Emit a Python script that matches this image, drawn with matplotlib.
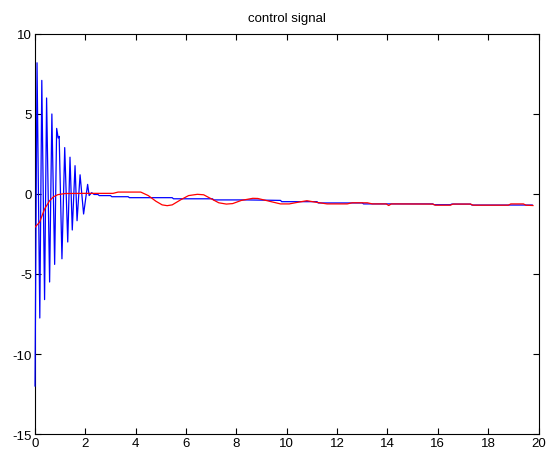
import matplotlib
matplotlib.use("Agg")
import matplotlib.pyplot as plt

# blue trace: breakpoints (time, value)
blue_t = [0.0, 0.08, 0.19, 0.27, 0.38, 0.46, 0.58, 0.67, 0.78, 0.86, 0.92, 0.96,
          1.07, 1.18, 1.30, 1.39, 1.48, 1.59, 1.67, 1.79, 1.93, 2.09, 2.15, 2.25,
          2.35, 2.50, 2.55, 3.00, 3.05, 3.70, 3.75, 5.45, 5.50, 7.05, 7.10, 8.40,
          9.75, 9.80, 11.20, 11.25, 13.00, 13.05, 15.80, 15.85, 16.50, 16.55,
          17.30, 17.35, 19.75]
blue_v = [-12.0, 8.2, -7.75, 7.1, -6.6, 6.0, -5.5, 5.0, -4.4, 4.1, 3.5, 3.6,
          -4.05, 2.9, -3.0, 2.3, -2.25, 1.77, -1.67, 1.2, -1.25, 0.6, -0.1, 0.08,
          -0.03, -0.03, -0.1, -0.1, -0.17, -0.17, -0.23, -0.23, -0.3, -0.3, -0.37, -0.37,
          -0.4, -0.48, -0.48, -0.56, -0.56, -0.62, -0.62, -0.67, -0.67, -0.63,
          -0.63, -0.69, -0.69]

# red trace
red_t = [0.0, 0.18, 0.38, 0.58, 0.74, 0.91, 1.2, 2.0, 3.1, 3.3, 4.2, 4.5, 4.8,
         5.05, 5.25, 5.45, 5.8, 6.1, 6.45, 6.7, 7.0, 7.3, 7.6, 7.85, 8.2, 8.65,
         8.85, 9.3, 9.75, 10.1, 10.5, 10.8, 11.1, 11.6, 12.4, 12.6, 13.2, 13.4,
         13.95, 14.05, 14.15, 15.8, 15.9, 16.5, 16.6, 17.3, 17.4, 18.8, 18.9,
         19.4, 19.5, 19.78]
red_v = [-2.07, -1.77, -0.94, -0.42, -0.17, -0.04, 0.03, 0.04, 0.04, 0.12, 0.12,
         -0.1, -0.45, -0.68, -0.73, -0.68, -0.35, -0.1, -0.02, -0.05, -0.3, -0.55,
         -0.63, -0.6, -0.4, -0.27, -0.28, -0.45, -0.62, -0.62, -0.5, -0.42, -0.5,
         -0.62, -0.62, -0.55, -0.55, -0.62, -0.62, -0.72, -0.62, -0.63, -0.7, -0.7,
         -0.63, -0.63, -0.7, -0.7, -0.62, -0.62, -0.7, -0.72]

x_ticks = list(range(0, 21, 2))
y_ticks = [-15, -10, -5, 0, 5, 10]

plt.rcParams['font.family'] = ['Liberation Sans', 'DejaVu Sans']
plt.rcParams['axes.unicode_minus'] = False

fig = plt.figure(figsize=(5.47, 4.52), dpi=100)
ax = fig.add_axes([0.064, 0.0376, 0.9205, 0.885])

ax.plot(blue_t, blue_v, color=(0, 0, 1), linewidth=0.9, zorder=3, clip_on=False)
ax.plot(red_t, red_v, color=(1, 0, 0), linewidth=0.9, zorder=3)

ax.set_xlim(0, 20)
ax.set_ylim(-15, 10)
ax.set_xticks(x_ticks)
ax.set_yticks(y_ticks)
ax.tick_params(direction='in', top=True, right=True, length=4, width=0.8,
               labelsize=9.5, pad=2)
for s in ax.spines.values():
    s.set_linewidth(0.8)
ax.set_title("control signal", fontsize=9.5, pad=9)

fig.savefig("out.png", dpi=100)
